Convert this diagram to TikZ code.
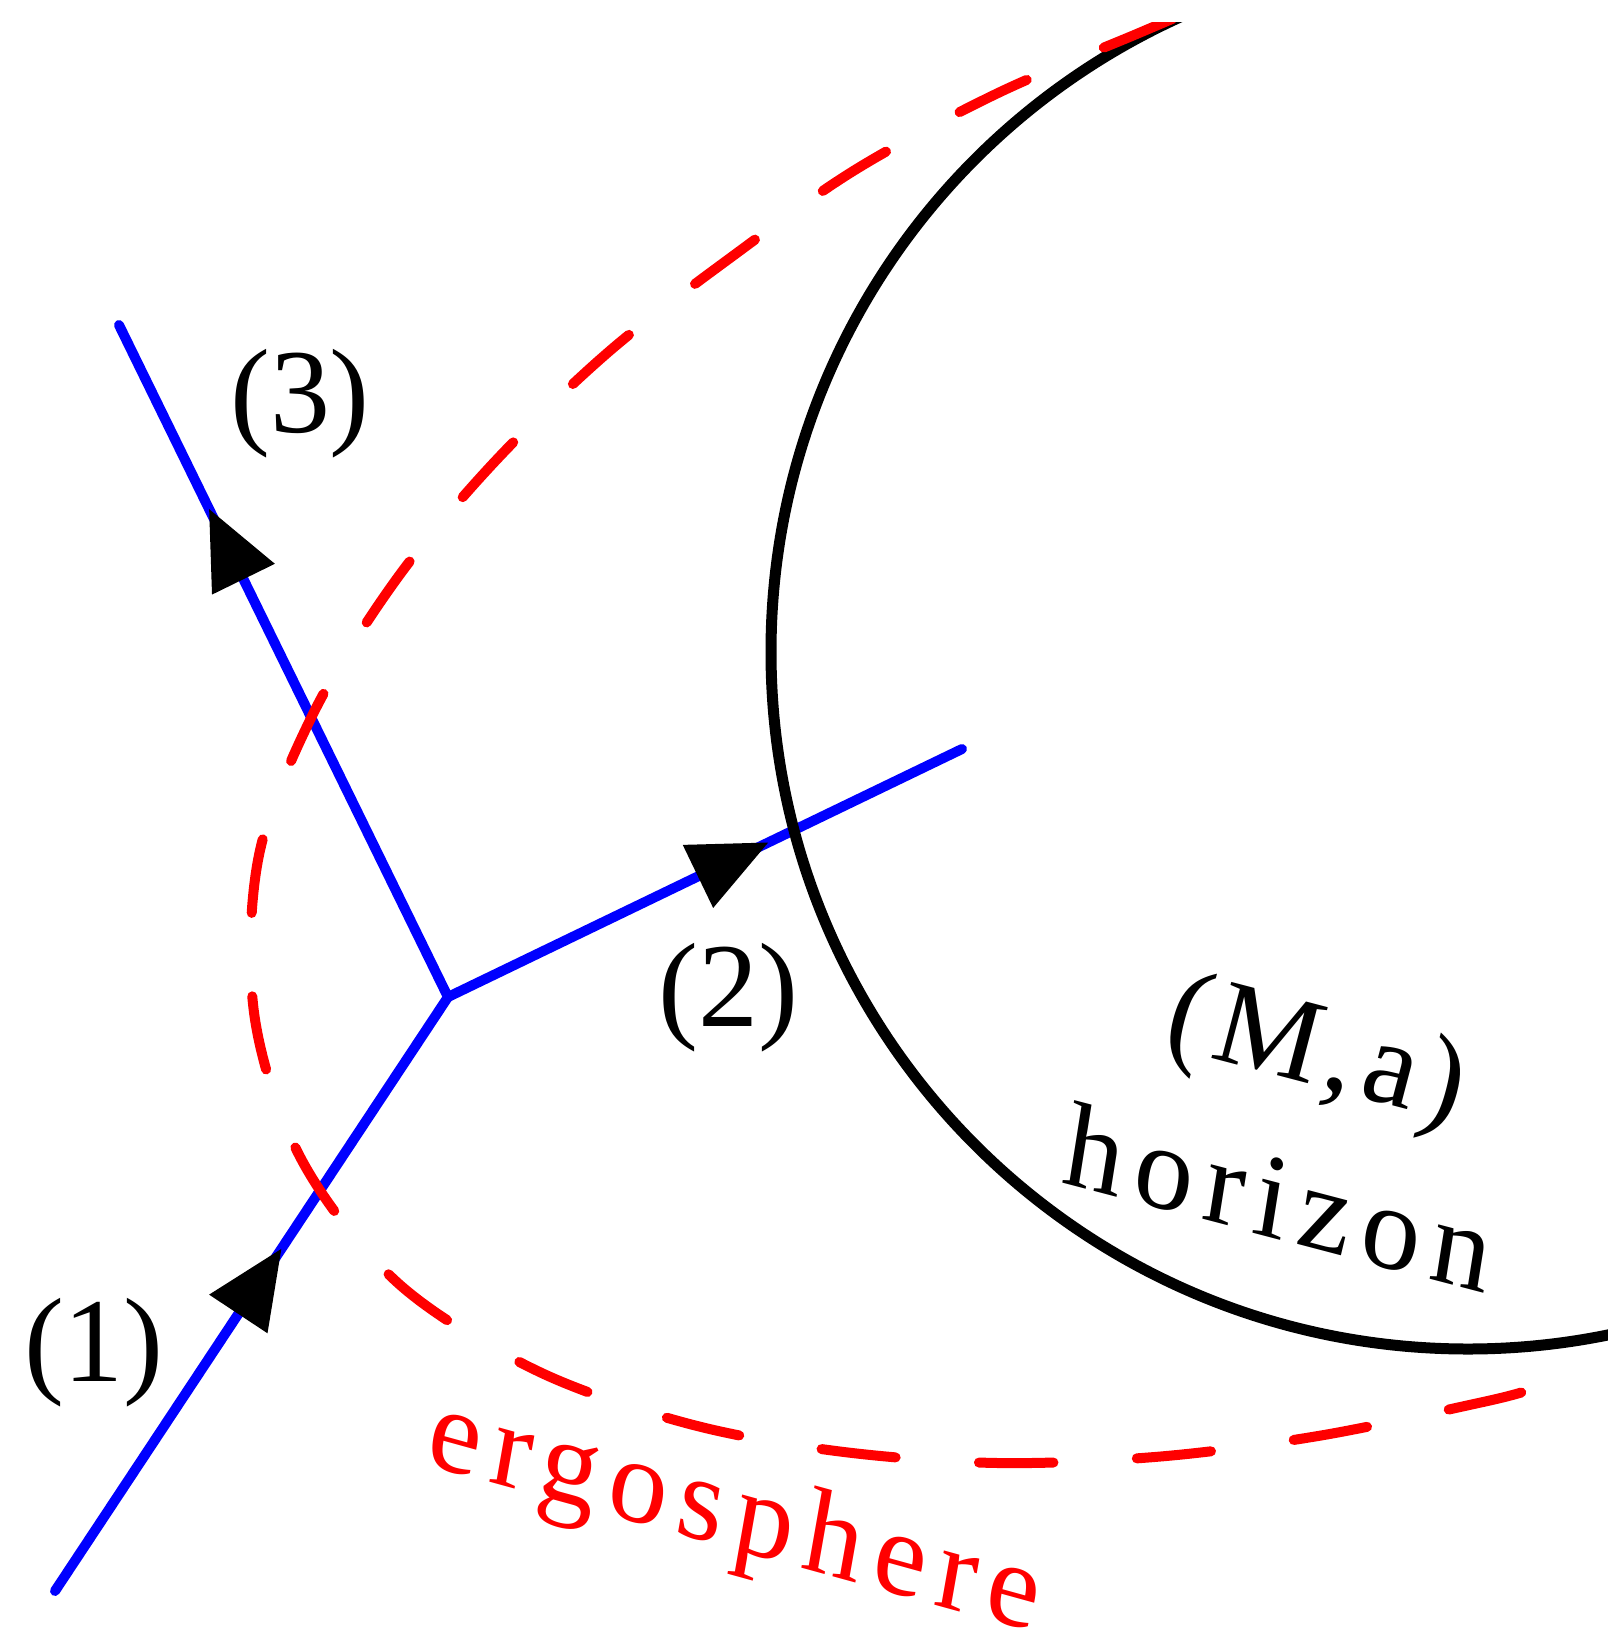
\documentclass[tikz,border=0pt]{standalone}
\usepackage{fontspec}
\setmainfont{Liberation Serif}
\newfontfamily\spaced[LetterSpace=10]{Liberation Serif}
\newfontfamily\spacedB[LetterSpace=7]{Liberation Serif}
\usetikzlibrary{arrows.meta,decorations.markings}
\begin{document}
\begin{tikzpicture}[x=0.5pt,y=-0.5pt,
  particle/.style={blue, line width=5pt, line cap=round},
  ahead/.style={postaction={decorate}, decoration={markings,
     mark=at position #1 with {\arrow{Triangle[length=39pt,width=35pt,color=black,line width=0pt]}}}},
  horizonline/.style={black, line width=5.5pt},
  ergoline/.style={red, line width=5pt, line cap=round,
     dash pattern=on 37.25pt off 41.75pt, dash phase=76.5pt},
  lab/.style={font=\fontsize{60}{72}\selectfont, inner sep=0pt},
  spacedlab/.style={font=\spaced\fontsize{60}{72}\selectfont, inner sep=0pt, anchor=base}
]
\useasboundingbox (0,0) rectangle (1608,1635);

% particle world lines
\coordinate (S1) at (55,1591);
\coordinate (V)  at (448,997);
\coordinate (E2) at (962,749);
\coordinate (E3) at (119,325);
\draw[particle, ahead=0.576] (S1) -- (V);
\draw[particle, ahead=0.623] (V) -- (E2);
\draw[particle, ahead=0.726] (V) -- (E3);

\begin{scope}
  \clip (0,22) rectangle (1608,1635);
  % horizon
  \coordinate (hc) at (1468,652);
  \draw[horizonline] (hc) circle[radius=697];
  % ergosphere
  \draw[ergoline] plot[smooth, tension=0.55] coordinates {
    (1526,1391) (1483,1402) (1321,1435.5) (1160.5,1456.5) (998,1463)
    (840,1451.5) (689.5,1424) (537.5,1371) (399,1284) (302,1160.5)
    (254.5,1016) (258.5,857.5) (313.5,713) (395.5,580.5) (493.5,463)
    (609,351.5) (735.5,254) (856.5,169) (997,93.5) (1139,33) (1231,-6)};
\end{scope}

% labels (upward y axis here, so positions are given as (x,-y))
\begin{scope}[x=0.5pt,y=0.5pt]
\node[lab] (l1) at (94,-1353) {(1)};
\node[lab] (l2) at (728,-998) {(2)};
\node[lab] (l3) at (300,-404) {(3)};
\node[lab, font=\spacedB\fontsize{60}{72}\selectfont, rotate=-14.7] (lMa) at (1316,-1056) {(M,a)};
\node[spacedlab, cm={0.9673,-0.2538,0.1564,0.9877,(0,0)}] (lhor) at (1273,-1238) {horizon};
\node[spacedlab, red, cm={0.9641,-0.2656,0.1736,0.9848,(0,0)}] (lergo) at (729,-1548) {ergosphere};
\end{scope}
\end{tikzpicture}
\end{document}
